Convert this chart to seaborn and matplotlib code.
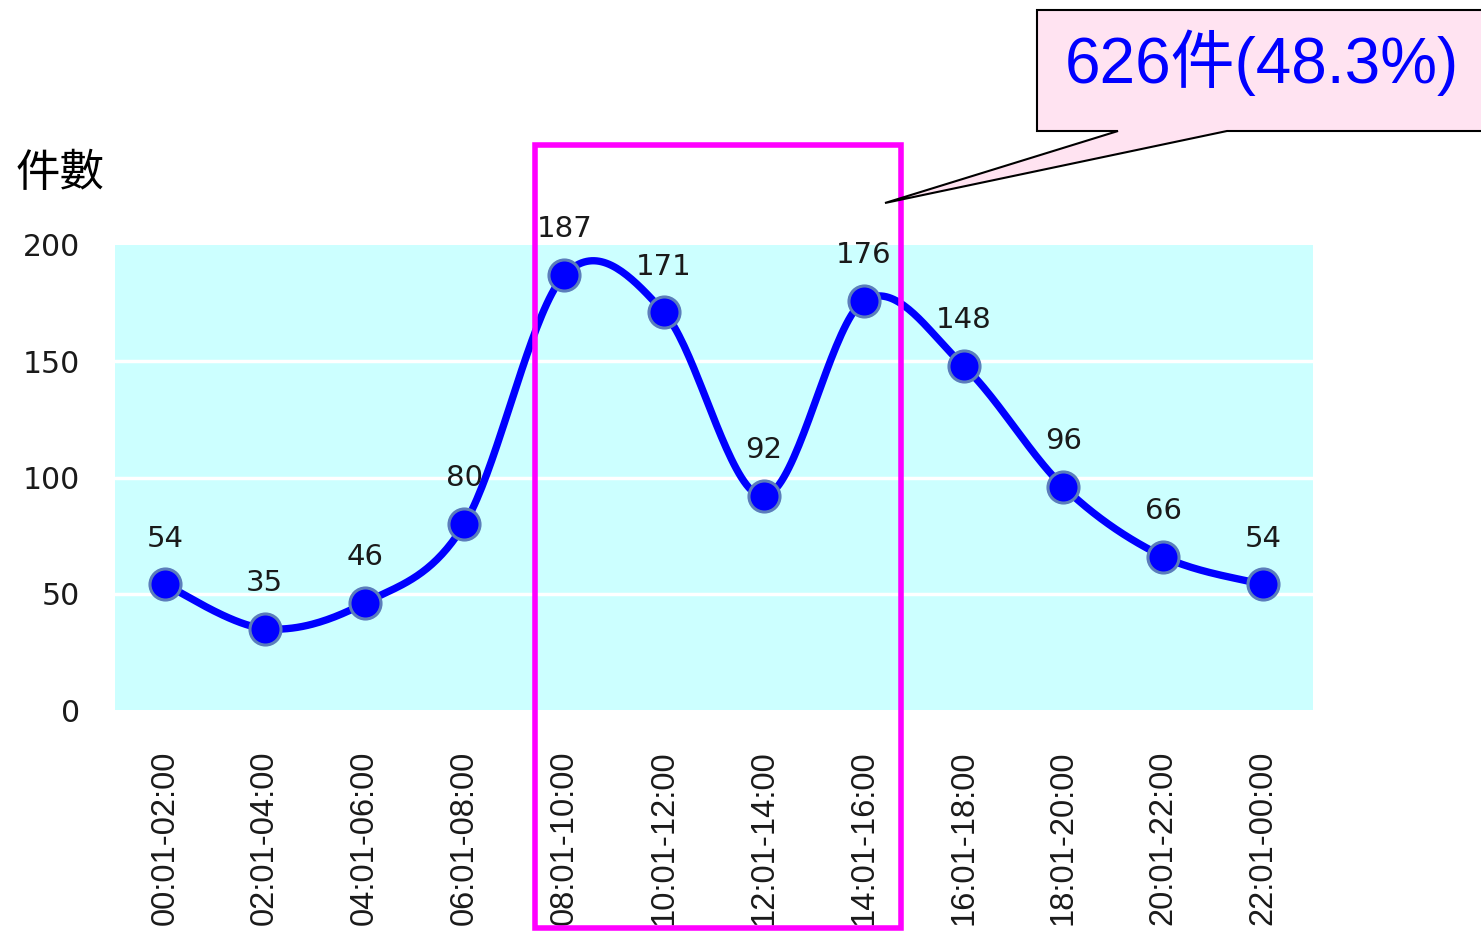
import numpy as np
import pandas as pd
import matplotlib
matplotlib.use("Agg")
import matplotlib.pyplot as plt
import matplotlib.transforms as mtransforms
from matplotlib.patches import Polygon, Rectangle
import seaborn as sns

# ---- data ----
time_slots = ["00:01-02:00", "02:01-04:00", "04:01-06:00", "06:01-08:00",
              "08:01-10:00", "10:01-12:00", "12:01-14:00", "14:01-16:00",
              "16:01-18:00", "18:01-20:00", "20:01-22:00", "22:01-00:00"]
counts = [54, 35, 46, 80, 187, 171, 92, 176, 148, 96, 66, 54]
y_ticks = [0, 50, 100, 150, 200]
highlight_first, highlight_last = 4, 7       # 08:01 .. 16:00
highlight_share = "48.3%"
y_label = "件數"

sns.set_theme(style="white")
plt.rcParams["font.family"] = ["DejaVu Sans", "Noto Sans CJK TC"]

W, H = 1481, 932
fig = plt.figure(figsize=(W / 100, H / 100), dpi=100)
ax = fig.add_axes([115 / W, 1 - 710 / H, (1313 - 115) / W, (710 - 245) / H])
ax.set_facecolor("#CCFFFF")
for s in ax.spines.values():
    s.set_visible(False)

idx = np.arange(len(counts))
df = pd.DataFrame({"slot": idx, "count": counts})


def smooth_curve(x, y, n=40):
    """Bezier smoothing through every point (control points at 1/6 of the neighbour chord)."""
    xs, ys = [], []
    m = len(x)
    for i in range(m - 1):
        p0 = np.array([x[max(i - 1, 0)], y[max(i - 1, 0)]], float)
        p1 = np.array([x[i], y[i]], float)
        p2 = np.array([x[i + 1], y[i + 1]], float)
        p3 = np.array([x[min(i + 2, m - 1)], y[min(i + 2, m - 1)]], float)
        b1 = p1 + (p2 - p0) / 6
        b2 = p2 - (p3 - p1) / 6
        t = np.linspace(0, 1, n, endpoint=(i == m - 2))[:, None]
        pts = ((1 - t) ** 3) * p1 + 3 * ((1 - t) ** 2) * t * b1 + 3 * (1 - t) * t ** 2 * b2 + t ** 3 * p2
        xs.append(pts[:, 0]); ys.append(pts[:, 1])
    return np.concatenate(xs), np.concatenate(ys)


cx, cy = smooth_curve(idx, counts)
sns.lineplot(x=cx, y=cy, ax=ax, color="#0000FF", linewidth=5.3, sort=False, zorder=3)
sns.scatterplot(data=df, x="slot", y="count", ax=ax, s=500, color="#0000FF",
                edgecolor="#5B7DBB", linewidth=2.2, zorder=4)

for i, v in zip(idx, counts):
    ax.annotate(str(v), (i, v), xytext=(0, 33), textcoords="offset points",
                ha="center", va="center", fontsize=21, color="#1a1a1a", zorder=5)

ax.set_xlim(-0.5, len(counts) - 0.5)
ax.set_ylim(0, 200)
ax.set_yticks(y_ticks)
ax.set_yticklabels([str(t) for t in y_ticks], fontsize=21.5, color="#1a1a1a")
ax.set_xticks(idx)
ax.set_xticklabels(time_slots, rotation=90, ha="center", va="top",
                   fontsize=23.5, color="#1a1a1a")
for lbl in ax.get_xticklabels():
    lbl.set_fontfamily(["Liberation Sans", "DejaVu Sans"])
ax.tick_params(axis="y", length=0, pad=25)
ax.tick_params(axis="x", length=0, pad=29)
for t in y_ticks[1:4]:
    ax.axhline(t, color="white", linewidth=2.5, zorder=1)
ax.set_xlabel("")
ax.set_ylabel("")

fig.text(60 / W, 1 - 173 / H, y_label, ha="center", va="center", fontsize=32,
         family=["Noto Sans CJK TC"], fontweight="light", color="black")

# highlight frame around the daytime peak
blend = mtransforms.blended_transform_factory(ax.transData, ax.transAxes)
x0, x1 = highlight_first - 0.29, highlight_last + 0.37
y0, y1 = -0.469, 1.215
ax.add_patch(Rectangle((x0, y0), x1 - x0, y1 - y0, transform=blend, fill=False,
                       edgecolor="#FF00FF", linewidth=4.0, clip_on=False, zorder=6))

# callout
def fpx(x, y):
    return (x / W, 1 - y / H)

callout = [fpx(1037, 10), fpx(1500, 10), fpx(1500, 131), fpx(1227, 131),
           fpx(885, 203), fpx(1118, 131), fpx(1037, 131)]
fig.patches.append(Polygon(callout, closed=True, transform=fig.transFigure,
                           facecolor="#FFE3F1", edgecolor="black", linewidth=1.5, zorder=7))
highlight_total = sum(counts[highlight_first:highlight_last + 1])
fig.text(1262 / W, 1 - 83 / H, f"{highlight_total}件({highlight_share})",
         ha="center", va="baseline", fontsize=46, color="#0000FF",
         family=["Liberation Sans", "Noto Sans CJK TC"], zorder=8)

fig.savefig("out.png", dpi=100)
